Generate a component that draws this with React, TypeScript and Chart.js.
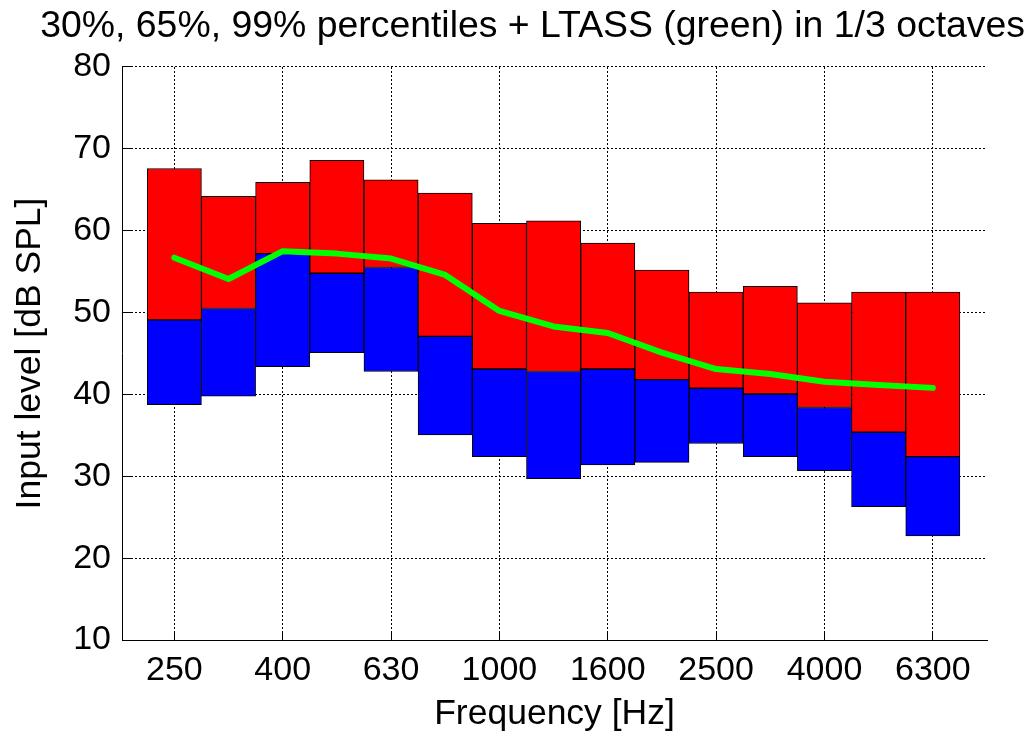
import React, { useEffect, useRef } from "react";
import { Chart, registerables } from "chart.js";

Chart.register(...registerables);

// 1/3-octave band centre frequencies (Hz)
const BANDS = [250, 315, 400, 500, 630, 800, 1000, 1250, 1600, 2000, 2500, 3150, 4000, 5000, 6300];
// band indices that carry a tick label
const TICK_INDICES = [0, 2, 4, 6, 8, 10, 12, 14];
// percentiles in dB SPL
const P30 = [38.75, 39.8, 43.4, 45.1, 42.8, 35.05, 32.4, 29.7, 31.4, 31.7, 34.0, 32.4, 30.7, 26.3, 22.7];
const P65 = [49.1, 50.5, 57.2, 54.8, 55.5, 47.1, 43.1, 42.8, 43.1, 41.8, 40.75, 40.05, 38.4, 35.4, 32.4];
const P99 = [67.6, 64.2, 65.9, 68.6, 66.2, 64.6, 60.9, 61.2, 58.5, 55.2, 52.5, 53.2, 51.2, 52.5, 52.5];
// long-term average speech spectrum
const LTASS = [56.7, 54.1, 57.5, 57.2, 56.6, 54.6, 50.2, 48.3, 47.5, 45.1, 43.1, 42.5, 41.55, 41.15, 40.8];

// axis range in band-index units: 200 Hz .. 8000 Hz
const X_MIN = -0.966;
const X_MAX = 15;
const Y_MIN = 10;
const Y_MAX = 80;

const TITLE = "30%, 65%, 99% percentiles + LTASS (green) in 1/3 octaves";
const FONT = "'Liberation Sans', Arial, Helvetica, sans-serif";

const inwardTicks = {
  id: "inwardTicks",
  beforeDatasetsDraw(chart: any) {
    const { ctx, chartArea, scales } = chart;
    ctx.save();
    ctx.strokeStyle = "#000";
    ctx.lineWidth = 1;
    ctx.setLineDash([]);
    scales.y.ticks.forEach((t: any) => {
      const y = Math.round(scales.y.getPixelForValue(t.value) - 0.5) + 0.5;
      ctx.beginPath();
      ctx.moveTo(chartArea.left, y);
      ctx.lineTo(chartArea.left + 9, y);
      ctx.stroke();
    });
    scales.x.ticks.forEach((t: any) => {
      const x = Math.round(scales.x.getPixelForValue(t.value) - 0.5) + 0.5;
      ctx.beginPath();
      ctx.moveTo(x, chartArea.bottom);
      ctx.lineTo(x, chartArea.bottom - 9);
      ctx.stroke();
    });
    ctx.restore();
  },
};

export default function App() {
  const ref = useRef<HTMLCanvasElement | null>(null);

  useEffect(() => {
    document.body.style.margin = "0";
    const canvas = ref.current;
    if (!canvas) return;
    const chart = new Chart(canvas, {
      type: "bar",
      data: {
        datasets: [
          {
            type: "line",
            label: "LTASS",
            data: LTASS.map((v, i) => ({ x: i, y: v })),
            borderColor: "#00ff00",
            borderWidth: 6,
            pointRadius: 0,
            tension: 0,
            borderCapStyle: "round",
            borderJoinStyle: "round",
            order: 0,
          } as any,
          {
            type: "bar",
            label: "65-99%",
            data: P65.map((v, i) => ({ x: i, y: [v, P99[i]] })),
            backgroundColor: "#ff0000",
            borderColor: "#000000",
            borderWidth: 1,
            borderSkipped: false,
            grouped: false,
            barPercentage: 1,
            categoryPercentage: 1,
            order: 1,
          } as any,
          {
            type: "bar",
            label: "30-65%",
            data: P30.map((v, i) => ({ x: i, y: [v, P65[i]] })),
            backgroundColor: "#0000ff",
            borderColor: "#000000",
            borderWidth: 1,
            borderSkipped: false,
            grouped: false,
            barPercentage: 1,
            categoryPercentage: 1,
            order: 2,
          } as any,
        ],
      },
      options: {
        responsive: false,
        animation: false,
        events: [],
        layout: { padding: { left: 0, right: 4, top: 0, bottom: 0 } },
        plugins: {
          legend: { display: false },
          tooltip: { enabled: false },
          title: {
            display: true,
            text: TITLE,
            align: "end",
            color: "#000",
            font: { family: FONT, size: 37.4, weight: "normal", lineHeight: 1.2 },
            padding: { top: 4.4, bottom: 17.7 },
          },
        },
        scales: {
          x: {
            type: "linear",
            min: X_MIN,
            max: X_MAX,
            offset: false,
            afterBuildTicks: (s: any) => {
              s.ticks = TICK_INDICES.map((v) => ({ value: v }));
            },
            afterFit: (s: any) => {
              s.height = 96;
            },
            ticks: {
              color: "#000",
              padding: 10,
              maxRotation: 0,
              autoSkip: false,
              font: { family: FONT, size: 34 },
              callback: (v: any) => String(BANDS[Math.round(Number(v))] ?? ""),
            },
            grid: { color: "#000", lineWidth: 1, drawTicks: false, offset: false },
            border: { display: true, color: "#000", width: 1, dash: [2, 2] },
            title: {
              display: true,
              text: "Frequency [Hz]",
              color: "#000",
              font: { family: FONT, size: 35.5, lineHeight: 1.2 },
              padding: { top: 0, bottom: 0 },
            },
          },
          y: {
            type: "linear",
            min: Y_MIN,
            max: Y_MAX,
            afterFit: (s: any) => {
              s.width = 122;
            },
            ticks: {
              stepSize: 10,
              color: "#000",
              padding: 11,
              font: { family: FONT, size: 34 },
            },
            grid: { color: "#000", lineWidth: 1, drawTicks: false },
            border: { display: true, color: "#000", width: 1, dash: [2, 2] },
            title: {
              display: true,
              text: "Input level [dB SPL]",
              color: "#000",
              font: { family: FONT, size: 35.5, lineHeight: 1.2 },
              padding: { top: 8.5, bottom: 0 },
            },
          },
          yR: {
            type: "linear",
            position: "right",
            min: Y_MIN,
            max: Y_MAX,
            afterFit: (s: any) => {
              s.width = 38;
            },
            ticks: { display: false },
            grid: { display: false, drawTicks: false },
            border: { display: false },
          },
        },
      } as any,
      plugins: [inwardTicks],
    });
    return () => chart.destroy();
  }, []);

  return (
    <div style={{ width: 1029, height: 736 }}>
      <canvas ref={ref} width={1029} height={736} style={{ display: "block" }} />
    </div>
  );
}
